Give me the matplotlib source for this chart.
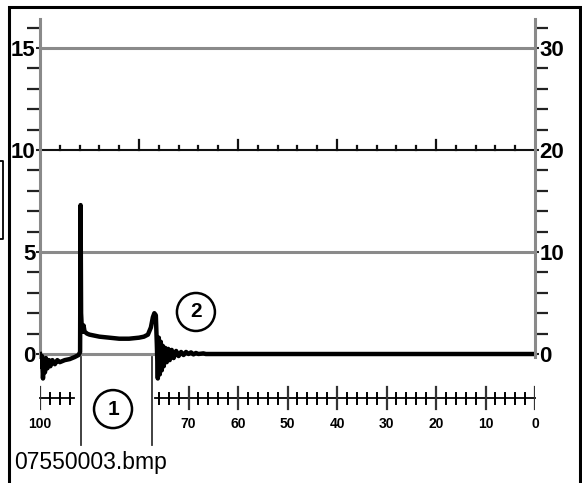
import matplotlib
matplotlib.use("Agg")
import matplotlib.pyplot as plt
from matplotlib.patches import Ellipse, Rectangle
from matplotlib.lines import Line2D
import numpy as np

plt.rcParams['font.family'] = ['Liberation Sans', 'DejaVu Sans']

# trace (x in scale units, reversed axis 100 -> 0; y on left scale)
trace_x = [100, 99.8, 99.6, 99.4, 99.2, 99.0, 98.8, 98.5, 98.2, 97.9, 97.5, 97.0,
           96.5, 96.0, 95.0, 94.0, 93.0, 92.2, 91.9,
           91.8, 91.7, 91.6, 91.4, 91.2, 91.0, 90.5, 90.0, 89.0, 88.0, 86.0, 84.0,
           82.0, 80.0, 79.0, 78.2, 77.6, 77.2, 76.9, 76.6,
           76.4, 76.2, 76.0, 75.8, 75.6, 75.4, 75.2, 75.0, 74.7, 74.4, 74.1, 73.8,
           73.4, 73.0, 72.5, 72.0, 71.5, 71.0, 70.5, 70.0, 69.5, 69.0, 68.5, 68.0,
           67.0, 66.5, 0]
trace_y = [0.0, -0.6, -0.1, -1.2, -0.3, -0.9, -0.2, -0.7, -0.3, -0.6, -0.3, -0.5,
           -0.3, -0.4, -0.3, -0.25, -0.15, -0.05, 0.1,
           7.3, 2.0, 1.5, 1.1, 1.4, 1.1, 1.0, 0.95, 0.9, 0.85, 0.8, 0.75,
           0.75, 0.8, 0.85, 0.95, 1.3, 1.8, 2.0, 1.9,
           0.5, -1.2, 0.8, -1.0, 0.6, -0.8, 0.4, -0.6, 0.3, -0.4, 0.25, -0.3,
           0.2, -0.2, 0.15, -0.1, 0.1, -0.05, 0.1, 0.0, 0.08, -0.02, 0.05, 0.0,
           0.03, 0.0, 0.0]

left_ticks = [0, 5, 10, 15]
right_ticks = [0, 10, 20, 30]
scale_labels = ["100", "70", "60", "50", "40", "30", "20", "10", "0"]
scale_pos = [100, 70, 60, 50, 40, 30, 20, 10, 0]
marker1, marker2 = 91.7, 77.4
caption = "07550003.bmp"

W, H = 582, 483
fig = plt.figure(figsize=(W / 100, H / 100), dpi=100)

# pixel geometry: x 100 -> px 40, x 0 -> px 535 ; y 0 -> px 354, 1 unit = 20.4 px
ytop, ybot = 16.4, -5.2
ax = fig.add_axes([40 / W, (H - (354 + 5.2 * 20.4)) / H, 495 / W, (21.6 * 20.4) / H])
ax.set_xlim(100, 0)
ax.set_ylim(ybot, ytop)
ax.patch.set_alpha(0)

grey = '#8a8a8a'
for s in ['top', 'bottom']:
    ax.spines[s].set_visible(False)
ax.spines['right'].set_visible(False)
ax.spines['left'].set_color(grey)
ax.spines['left'].set_linewidth(2.2)
ax.spines['left'].set_bounds(-0.15, ytop)
ax.set_xticks([])

ax.set_yticks(left_ticks)
ax.set_yticklabels([str(t) for t in left_ticks], fontsize=16, fontweight='bold')
ax.set_yticks([v for v in range(1, 17) if v % 5], minor=True)
ax.tick_params(axis='y', which='major', length=3, width=1.5, pad=0, color='#222222')
ax.tick_params(axis='y', which='minor', length=9.5, width=1.6, color='#222222')

# right scale
ax2 = ax.twinx()
ax2.set_ylim(ybot * 2, ytop * 2)
for s in ['top', 'bottom', 'left']:
    ax2.spines[s].set_visible(False)
ax2.spines['right'].set_color(grey)
ax2.spines['right'].set_linewidth(2.2)
ax2.spines['right'].set_bounds(-0.3, ytop * 2)
ax2.set_yticks(right_ticks)
ax2.set_yticklabels([str(t) for t in right_ticks], fontsize=16, fontweight='bold')
ax2.set_yticks([v for v in range(2, 33, 2) if v % 10], minor=True)
ax2.tick_params(axis='y', which='major', length=3, width=1.5, pad=0, color='#222222')
ax2.tick_params(axis='y', which='minor', length=9.5, width=1.6, color='#222222')

# horizontal reference lines
for yv in [0, 5, 15]:
    ax.axhline(yv, color=grey, lw=2.2, zorder=1)
ax.axhline(10, color='#111111', lw=1.5, zorder=1)
for xv in np.arange(96, 0, -4):
    h = 0.5 if xv % 20 == 0 else 0.22
    ax.plot([xv, xv], [10, 10 + h], color='#111111', lw=1.6, zorder=1)

# trace
ax.plot(trace_x, trace_y, color='black', lw=3.2, solid_joinstyle='round', zorder=3)

# lower distance scale
ys = -2.16
for x0, x1 in [(100, 93.2), (76.8, 0)]:
    ax.plot([x0, x1], [ys, ys], color='black', lw=1.3, clip_on=False)
ticks_lower = [v for v in range(100, 93, -2)] + [v for v in range(76, -1, -2)]
for xv in ticks_lower:
    if xv % 10 == 0:
        ax.plot([xv, xv], [ys + 0.55, ys - 0.55], color='#333333', lw=1.6)
    else:
        ax.plot([xv, xv], [ys + 0.27, ys - 0.27], color='black', lw=1.4)
for lab, xv in zip(scale_labels, scale_pos):
    ax.text(xv, -3.43, lab, ha='center', va='center', fontsize=10, fontweight='bold')

# zone markers
for xv in [marker1, marker2]:
    ax.plot([xv, xv], [-0.15, -4.46], color='#333333', lw=1.3)
ax.add_patch(Ellipse((85.25, -2.7), 38 / 4.95, 38 / 20.4, fc='none', ec='black', lw=1.8))
ax.text(85.25, -2.7, "1", ha='center', va='center', fontsize=15, fontweight='bold')
ax.add_patch(Ellipse((68.5, 2.06), 38 / 4.95, 38 / 20.4, fc='white', ec='black', lw=1.8, zorder=4))
ax.text(68.5, 2.06, "2", ha='center', va='center', fontsize=15, fontweight='bold', zorder=5)

# frame and caption
fig.patches.append(Rectangle((9 / W, -0.1), (580 - 9) / W, (H - 7) / H + 0.1,
                             transform=fig.transFigure, fill=False, ec='black', lw=2.2))
fig.lines.append(Line2D([0, 3 / W, 3 / W, 0], [1 - 161 / H, 1 - 161 / H, 1 - 239 / H, 1 - 239 / H],
                        transform=fig.transFigure, color='black', lw=1.3))
fig.text(14 / W, 1 - 463 / H, caption, ha='left', va='center', fontsize=16.5)

plt.savefig("out.png", dpi=100)
